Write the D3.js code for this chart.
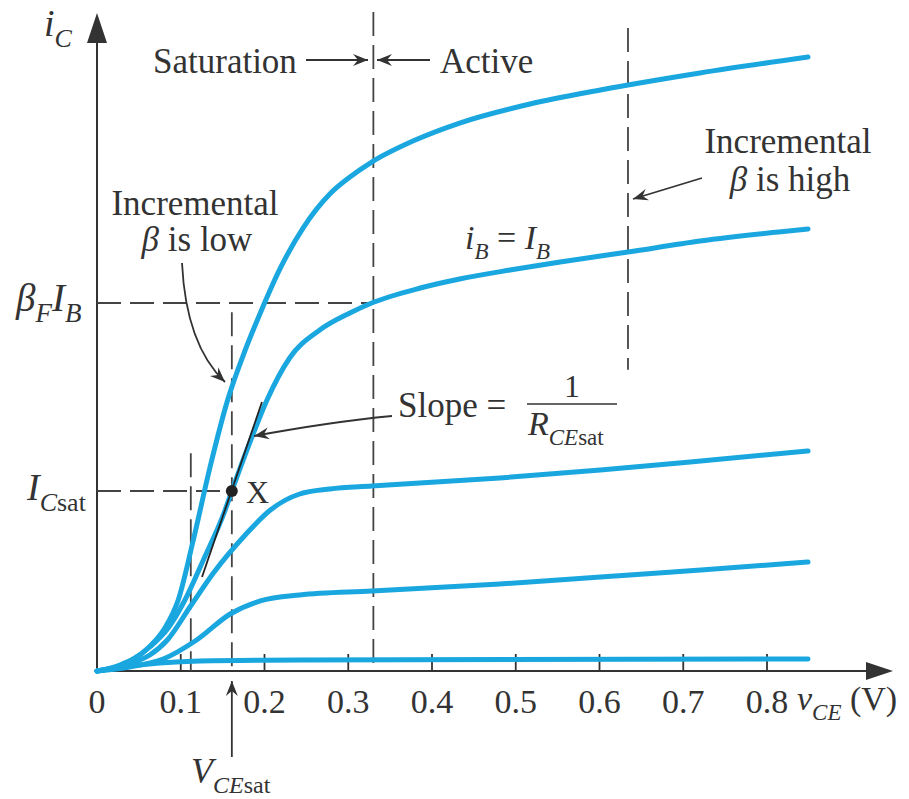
<!DOCTYPE html>
<html>
<head>
<meta charset="utf-8">
<script src="https://cdn.jsdelivr.net/npm/d3@7"></script>
<style>
  body { margin: 0; background: #fff; }
  svg { display: block; }
  text { font-family: "Liberation Serif", "DejaVu Serif", serif; fill: #333; }
</style>
</head>
<body>
<div id="chart"></div>
<script>
(function() {

// collector characteristic curves (vCE in V, iC in arbitrary units)
var curve1 = [[0,0],[0.0275,0.1],[0.061,0.383],[0.081,0.717],[0.097,1.183],[0.115,2.183],[0.135,3.4],[0.156,4.517],[0.177,5.35],[0.195,5.967],[0.219,6.717],[0.246,7.383],[0.278,7.95],[0.302,8.233],[0.328,8.483],[0.380,8.85],[0.433,9.133],[0.517,9.45],[0.601,9.683],[0.720,9.967],[0.849,10.233]];
var curve2 = [[0,0],[0.0275,0.083],[0.063,0.4],[0.085,0.717],[0.105,1.183],[0.127,1.85],[0.153,2.683],[0.161,3.0],[0.185,3.9],[0.203,4.517],[0.230,5.217],[0.266,5.683],[0.302,5.967],[0.328,6.133],[0.386,6.383],[0.433,6.533],[0.493,6.683],[0.553,6.817],[0.634,6.983],[0.720,7.167],[0.849,7.367]];
var curve3 = [[0,0],[0.033,0.1],[0.063,0.267],[0.084,0.517],[0.111,1.067],[0.139,1.633],[0.177,2.267],[0.207,2.683],[0.242,2.95],[0.278,3.033],[0.328,3.083],[0.481,3.217],[0.601,3.35],[0.721,3.5],[0.849,3.667]];
var curve4 = [[0,0],[0.039,0.067],[0.079,0.2],[0.119,0.517],[0.159,0.95],[0.195,1.167],[0.242,1.267],[0.328,1.333],[0.481,1.45],[0.601,1.567],[0.721,1.683],[0.849,1.817]];
var curve5 = [[0,0],[0.039,0.083],[0.075,0.133],[0.123,0.167],[0.242,0.183],[0.849,0.2]];
var curves = [curve1, curve2, curve3, curve4, curve5];

var xTicks = [0, 0.1, 0.2, 0.3, 0.4, 0.5, 0.6, 0.7, 0.8];
var xTickLabels = ['0', '0.1', '0.2', '0.3', '0.4', '0.5', '0.6', '0.7', '0.8'];

// operating point X and reference levels
var vCEsat = 0.161, iCsat = 3.0;
var vEdge = 0.33, betaFIB = 6.133;
var vHigh = 0.634, vLow = 0.112;
var tangent = [[0.1254, 1.567], [0.197, 4.483]];

var width = 909, height = 799;

var x = d3.scaleLinear().domain([0, 0.8]).range([97, 767]);
var y = d3.scaleLinear().domain([0, 10]).range([671, 71]);

var svg = d3.select('#chart')
    .append('svg')
    .attr('width', width)
    .attr('height', height);

var defs = svg.append('defs');
defs.append('marker')
    .attr('id', 'arr')
    .attr('viewBox', '-15 -7 17 14')
    .attr('refX', 0).attr('refY', 0)
    .attr('markerWidth', 17).attr('markerHeight', 14)
    .attr('markerUnits', 'userSpaceOnUse')
    .attr('orient', 'auto')
    .append('path')
    .attr('d', 'M0,0 L-15,-6 L-10,0 L-15,6 Z')
    .attr('fill', '#333');

var ink = '#333';
var dash = '#444';

//axes
svg.append('line')
    .attr('x1', x(0)).attr('y1', y(0))
    .attr('x2', 872).attr('y2', y(0))
    .attr('stroke', ink).attr('stroke-width', 2);
svg.append('path')
    .attr('d', 'M893,' + y(0) + ' L866,' + (y(0) - 9) + ' L866,' + (y(0) + 9) + ' Z')
    .attr('fill', ink);
svg.append('line')
    .attr('x1', x(0)).attr('y1', y(0))
    .attr('x2', x(0)).attr('y2', 40)
    .attr('stroke', ink).attr('stroke-width', 2);
svg.append('path')
    .attr('d', 'M' + x(0) + ',13 L' + (x(0) - 10) + ',43 L' + (x(0) + 10) + ',43 Z')
    .attr('fill', ink);

//tick marks
svg.append('g')
    .selectAll('line')
    .data(xTicks.slice(1))
    .join('line')
    .attr('x1', d => x(d)).attr('x2', d => x(d))
    .attr('y1', y(0)).attr('y2', y(0) - 17)
    .attr('stroke', ink).attr('stroke-width', 1.8);

svg.append('g')
    .selectAll('text')
    .data(xTicks)
    .join('text')
    .attr('x', d => x(d))
    .attr('y', 713)
    .attr('text-anchor', 'middle')
    .style('font-size', '34px')
    .text((d, i) => xTickLabels[i]);

//dashed guides
function dashed(x1, y1, x2, y2) {
    svg.append('line')
        .attr('x1', x1).attr('y1', y1)
        .attr('x2', x2).attr('y2', y2)
        .attr('stroke', dash)
        .attr('stroke-width', 1.8)
        .attr('stroke-dasharray', '24,9');
}
dashed(x(vEdge), 12, x(vEdge), y(0));
dashed(x(vHigh), 28, x(vHigh), y(5.02));
dashed(x(vCEsat), y(5.98), x(vCEsat), y(0));
dashed(x(vLow), y(3.63), x(vLow), y(0));
dashed(x(0), y(betaFIB), x(vEdge), y(betaFIB));
dashed(x(0), y(iCsat), x(vCEsat), y(iCsat));

//curves
var line = d3.line()
    .x(d => x(d[0]))
    .y(d => y(d[1]))
    .curve(d3.curveMonotoneX);

svg.append('g')
    .selectAll('path')
    .data(curves)
    .join('path')
    .attr('d', line)
    .attr('fill', 'none')
    .attr('stroke', '#1aa7df')
    .attr('stroke-width', 5)
    .attr('stroke-linecap', 'round');

//tangent and point X
svg.append('line')
    .attr('x1', x(tangent[0][0])).attr('y1', y(tangent[0][1]))
    .attr('x2', x(tangent[1][0])).attr('y2', y(tangent[1][1]))
    .attr('stroke', '#222').attr('stroke-width', 1.8);
svg.append('circle')
    .attr('cx', x(vCEsat)).attr('cy', y(iCsat))
    .attr('r', 6)
    .attr('fill', '#222');

//text helper with subscripts
function label(px, py, parts, size, anchor) {
    var t = svg.append('text')
        .attr('x', px).attr('y', py)
        .attr('text-anchor', anchor || 'start')
        .style('font-size', size + 'px');
    var off = 0;
    parts.forEach(function(p) {
        var s = p.sub ? Math.round(size * 0.68) : size;
        var target = p.sub ? Math.round(size * 0.28) : 0;
        t.append('tspan')
            .attr('dy', target - off)
            .style('font-size', s + 'px')
            .style('font-style', p.it ? 'italic' : 'normal')
            .text(p.t);
        off = target;
    });
    return t;
}

var fs = 35;
label(44, 36, [{t: 'i', it: true}, {t: 'C', it: true, sub: true}], 38);
label(16, 311, [{t: 'β', it: true}, {t: 'F', it: true, sub: true}, {t: 'I', it: true}, {t: 'B', it: true, sub: true}], 39);
label(27, 500, [{t: 'I', it: true}, {t: 'C', it: true, sub: true}, {t: 'sat', sub: true}], 38);
label(191, 783, [{t: 'V', it: true}, {t: 'CE', it: true, sub: true}, {t: 'sat', sub: true}], 36);
label(797, 710, [{t: 'v', it: true}, {t: 'CE', it: true, sub: true}, {t: ' (V)'}], 34);
label(246, 503, [{t: 'X'}], 32);
label(465, 249, [{t: 'i', it: true}, {t: 'B', it: true, sub: true}, {t: ' = '}, {t: 'I', it: true}, {t: 'B', it: true, sub: true}], 34);

label(153, 73, [{t: 'Saturation'}], fs);
label(440, 73, [{t: 'Active'}], fs);
label(195, 215, [{t: 'Incremental'}], fs, 'middle');
label(197, 251, [{t: 'β', it: true}, {t: ' is low'}], fs, 'middle');
label(788, 153, [{t: 'Incremental'}], fs, 'middle');
label(790, 191, [{t: 'β', it: true}, {t: ' is high'}], fs, 'middle');

label(398, 417, [{t: 'Slope ='}], fs);
label(572, 397, [{t: '1'}], 32, 'middle');
svg.append('line')
    .attr('x1', 527).attr('x2', 617)
    .attr('y1', 404).attr('y2', 404)
    .attr('stroke', ink).attr('stroke-width', 1.6);
label(528, 435, [{t: 'R', it: true}, {t: 'CE', it: true, sub: true}, {t: 'sat', sub: true}], 34);

//arrows
function arrow(d) {
    svg.append('path')
        .attr('d', d)
        .attr('fill', 'none')
        .attr('stroke', ink)
        .attr('stroke-width', 1.8)
        .attr('marker-end', 'url(#arr)');
}
arrow('M306,60 L368,60');
arrow('M430,60 L377,60');
arrow('M702,178 L633,199');
arrow('M182,263 Q186,345 225,382');
arrow('M392,416 Q330,422 254,436');
arrow('M' + x(vCEsat) + ',757 L' + x(vCEsat) + ',681');

})();
</script>
</body>
</html>
